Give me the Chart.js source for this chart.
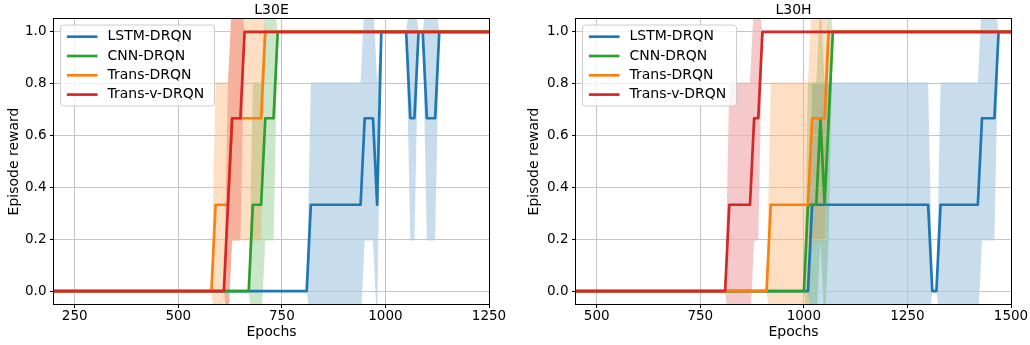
<!DOCTYPE html>
<html>
<head>
<meta charset="utf-8">
<script src="https://cdn.jsdelivr.net/npm/chart.js@4.4.0/dist/chart.umd.min.js"></script>
<style>
  html, body { margin: 0; padding: 0; background: #fff; }
  #wrap { position: relative; width: 1030px; height: 345px; overflow: hidden; }
  .panel { position: absolute; top: 0; height: 345px; }
  #left { left: 0; width: 510px; }
  #right { left: 520px; width: 510px; }
</style>
</head>
<body>
<div id="wrap">
  <div class="panel" id="left"><canvas id="chart-l30e"></canvas></div>
  <div class="panel" id="right"><canvas id="chart-l30h"></canvas></div>
</div>
<script>
//
// DATA
//

const methodNames = ["LSTM-DRQN", "CNN-DRQN", "Trans-DRQN", "Trans-v-DRQN"];
const methodColors = ["#1f77b4", "#2ca02c", "#ff7f0e", "#d62728"];
const bandColors = [
  "rgba(31,119,180,0.25)",
  "rgba(44,160,44,0.25)",
  "rgba(255,127,14,0.25)",
  "rgba(214,39,40,0.25)",
];
const yTicks = [0, 0.2, 0.4, 0.6, 0.8, 1.0];
const l30eXTicks = [250, 500, 750, 1000, 1250];
const l30hXTicks = [500, 750, 1000, 1250, 1500];

// rows: [epoch, mean reward, band low, band high]
const l30eLstm = [
  [200, 0, 0, 0],
  [810, 0, 0, 0],
  [820, 0.333, -0.138, 0.805],
  [940, 0.333, -0.138, 0.805],
  [950, 0.667, 0.195, 1.138],
  [970, 0.667, 0.195, 1.138],
  [980, 0.333, -0.138, 0.805],
  [990, 1, 1, 1],
  [1050, 1, 1, 1],
  [1060, 0.667, 0.195, 1.138],
  [1070, 0.667, 0.195, 1.138],
  [1080, 1, 1, 1],
  [1090, 1, 1, 1],
  [1100, 0.667, 0.195, 1.138],
  [1120, 0.667, 0.195, 1.138],
  [1130, 1, 1, 1],
  [1250, 1, 1, 1],
];
const l30eCnn = [
  [200, 0, 0, 0],
  [670, 0, 0, 0],
  [680, 0.333, -0.138, 0.805],
  [700, 0.333, -0.138, 0.805],
  [710, 0.667, 0.195, 1.138],
  [730, 0.667, 0.195, 1.138],
  [740, 1, 1, 1],
  [1250, 1, 1, 1],
];
const l30eTrans = [
  [200, 0, 0, 0],
  [580, 0, 0, 0],
  [590, 0.333, -0.138, 0.805],
  [620, 0.333, -0.138, 0.805],
  [630, 0.667, 0.195, 1.138],
  [700, 0.667, 0.195, 1.138],
  [710, 1, 1, 1],
  [1250, 1, 1, 1],
];
const l30eTransV = [
  [200, 0, 0, 0],
  [610, 0, 0, 0],
  [620, 0.333, -0.138, 0.805],
  [630, 0.667, 0.195, 1.138],
  [650, 0.667, 0.195, 1.138],
  [660, 1, 1, 1],
  [1250, 1, 1, 1],
];

const l30hLstm = [
  [450, 0, 0, 0],
  [1010, 0, 0, 0],
  [1020, 0.333, -0.138, 0.805],
  [1300, 0.333, -0.138, 0.805],
  [1310, 0, 0, 0],
  [1320, 0, 0, 0],
  [1330, 0.333, -0.138, 0.805],
  [1420, 0.333, -0.138, 0.805],
  [1430, 0.667, 0.195, 1.138],
  [1460, 0.667, 0.195, 1.138],
  [1470, 1, 1, 1],
  [1500, 1, 1, 1],
];
const l30hCnn = [
  [450, 0, 0, 0],
  [1000, 0, 0, 0],
  [1010, 0.333, -0.138, 0.805],
  [1030, 0.333, -0.138, 0.805],
  [1040, 0.667, 0.195, 1.138],
  [1050, 0.333, -0.138, 0.805],
  [1060, 0.667, 0.195, 1.138],
  [1070, 1, 1, 1],
  [1500, 1, 1, 1],
];
const l30hTrans = [
  [450, 0, 0, 0],
  [910, 0, 0, 0],
  [920, 0.333, -0.138, 0.805],
  [1010, 0.333, -0.138, 0.805],
  [1020, 0.667, 0.195, 1.138],
  [1050, 0.667, 0.195, 1.138],
  [1060, 1, 1, 1],
  [1500, 1, 1, 1],
];
const l30hTransV = [
  [450, 0, 0, 0],
  [810, 0, 0, 0],
  [820, 0.333, -0.138, 0.805],
  [870, 0.333, -0.138, 0.805],
  [880, 0.667, 0.195, 1.138],
  [890, 0.667, 0.195, 1.138],
  [900, 1, 1, 1],
  [1500, 1, 1, 1],
];

//
// HELPER FUNCTIONS
//

Chart.defaults.font.family = "'DejaVu Sans', sans-serif";
Chart.defaults.color = "#000";

function buildDatasets(seriesList) {
  const bands = [];
  const lines = [];
  seriesList.forEach((rows, i) => {
    bands.push({
      data: rows.map((r) => ({ x: r[0], y: r[3] })),
      borderWidth: 0,
      borderColor: "transparent",
      pointRadius: 0,
      fill: false,
      order: 14 - i,
      isBand: true,
    });
    bands.push({
      data: rows.map((r) => ({ x: r[0], y: r[2] })),
      borderWidth: 0,
      borderColor: "transparent",
      backgroundColor: bandColors[i],
      pointRadius: 0,
      fill: "-1",
      order: 14 - i,
      isBand: true,
    });
    lines.push({
      label: methodNames[i],
      data: rows.map((r) => ({ x: r[0], y: r[1] })),
      borderColor: methodColors[i],
      borderWidth: 2.7,
      borderJoinStyle: "round",
      pointRadius: 0,
      fill: false,
      order: 4 - i,
    });
  });
  return bands.concat(lines);
}

// matplotlib puts the grid above the shaded bands but below the lines
const gridOverBands = {
  id: "gridOverBands",
  beforeDatasetsDraw(chart) {
    chart.$gridDone = false;
  },
  beforeDatasetDraw(chart, args) {
    if (chart.$gridDone || chart.data.datasets[args.index].isBand) return;
    chart.scales.x.drawGrid(chart.chartArea);
    chart.scales.y.drawGrid(chart.chartArea);
    chart.$gridDone = true;
  },
};

const axesFrame = {
  id: "axesFrame",
  afterDatasetsDraw(chart) {
    const { ctx, chartArea: a } = chart;
    ctx.save();
    ctx.strokeStyle = "#000";
    ctx.lineWidth = 1;
    const l = Math.round(a.left) - 0.5;
    const t = Math.round(a.top) - 0.5;
    const r = Math.round(a.right) + 0.5;
    const b = Math.round(a.bottom) + 0.5;
    ctx.strokeRect(l, t, r - l, b - t);
    ctx.restore();
  },
};

const boxLegend = {
  id: "boxLegend",
  afterDraw(chart) {
    const { ctx, chartArea } = chart;
    const x0 = chartArea.left + 6.5;
    const y0 = chartArea.top + 6;
    ctx.save();
    ctx.beginPath();
    ctx.roundRect(x0, y0, 154, 81, 3);
    ctx.fillStyle = "rgba(255,255,255,0.8)";
    ctx.fill();
    ctx.strokeStyle = "#cccccc";
    ctx.lineWidth = 1;
    ctx.stroke();
    ctx.font = "14px 'DejaVu Sans'";
    ctx.textBaseline = "middle";
    methodNames.forEach((name, i) => {
      const yy = y0 + 11.7 + i * 19.3;
      ctx.beginPath();
      ctx.moveTo(x0 + 6.4, yy);
      ctx.lineTo(x0 + 37, yy);
      ctx.strokeStyle = methodColors[i];
      ctx.lineWidth = 2.7;
      ctx.stroke();
      ctx.fillStyle = "#000";
      ctx.fillText(name, x0 + 47, yy);
    });
    ctx.restore();
  },
};

function paintPanel(canvasId, title, seriesList, xMin, xMax, xTicks, yAxisWidth, padRight) {
  return new Chart(document.getElementById(canvasId), {
    type: "line",
    data: { datasets: buildDatasets(seriesList) },
    plugins: [gridOverBands, axesFrame, boxLegend],
    options: {
      responsive: true,
      maintainAspectRatio: false,
      animation: false,
      events: [],
      layout: { padding: { top: 0, left: 0, right: padRight, bottom: 0 } },
      plugins: {
        legend: { display: false },
        tooltip: { enabled: false },
        title: {
          display: true,
          text: title,
          fullSize: false,
          color: "#000",
          font: { size: 14, weight: "normal" },
          padding: { top: 1.5, bottom: 0.7 },
        },
      },
      scales: {
        x: {
          type: "linear",
          min: xMin,
          max: xMax,
          border: { display: false },
          grid: { color: "#c4c4c4", lineWidth: 1, tickLength: 4, tickColor: "#000", tickWidth: 1 },
          afterBuildTicks(scale) {
            scale.ticks = xTicks.map((v) => ({ value: v }));
          },
          ticks: {
            autoSkip: false,
            maxRotation: 0,
            padding: 0.5,
            font: { size: 13.5 },
            callback: (v) => String(v),
          },
          title: {
            display: true,
            text: "Epochs",
            font: { size: 14 },
            padding: { top: 0, bottom: 4.1 },
          },
          afterFit(scale) {
            scale.height = 41;
            scale.paddingLeft = 0;
            scale.paddingRight = 0;
          },
        },
        y: {
          min: -0.05,
          max: 1.05,
          border: { display: false },
          grid: { color: "#c4c4c4", lineWidth: 1, tickLength: 4, tickColor: "#000", tickWidth: 1 },
          afterBuildTicks(scale) {
            scale.ticks = yTicks.map((v) => ({ value: v }));
          },
          ticks: {
            padding: 3.5,
            font: { size: 13.5 },
            callback: (v) => v.toFixed(1),
          },
          title: {
            display: true,
            text: "Episode reward",
            font: { size: 14 },
            padding: { top: 6, bottom: 0 },
          },
          afterFit(scale) {
            scale.width = yAxisWidth;
            scale.paddingTop = 0;
            scale.paddingBottom = 0;
          },
        },
      },
    },
  });
}

//
// PAINT
//

paintPanel("chart-l30e", "L30E", [l30eLstm, l30eCnn, l30eTrans, l30eTransV], 200, 1250, l30eXTicks, 54, 21);
paintPanel("chart-l30h", "L30H", [l30hLstm, l30hCnn, l30hTrans, l30hTransV], 450, 1500, l30hXTicks, 56, 19);
</script>
</body>
</html>
